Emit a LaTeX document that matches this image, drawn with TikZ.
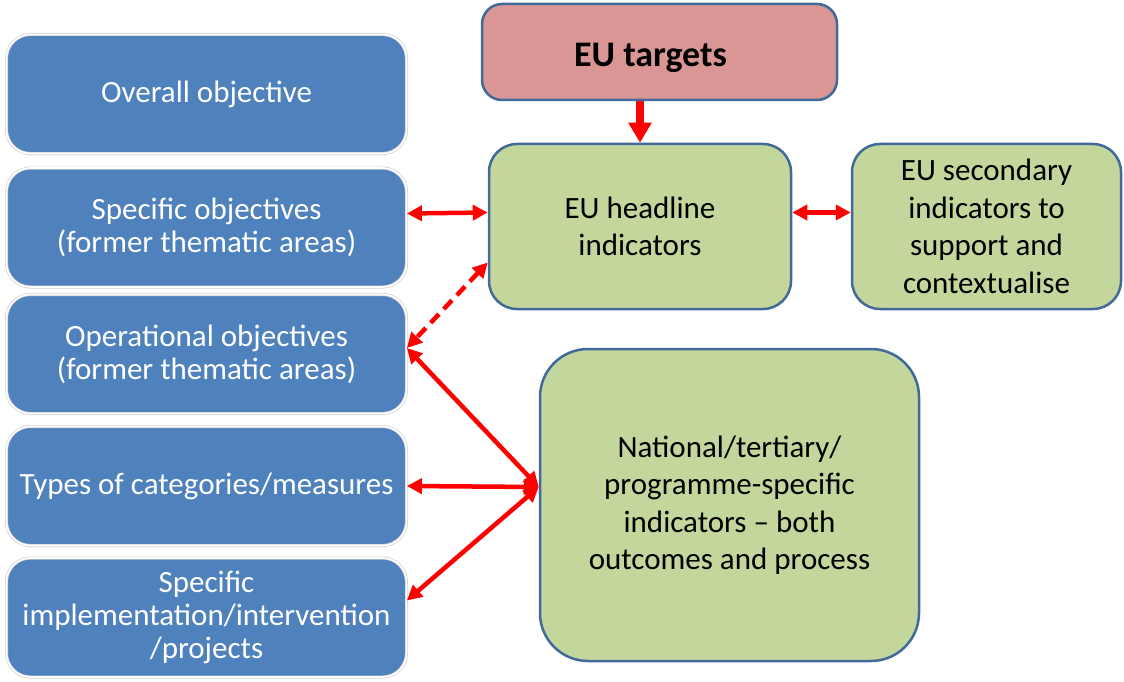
\documentclass[tikz,border=0pt]{standalone}
\usepackage{fontspec}
\setmainfont{Carlito}
\usetikzlibrary{arrows.meta,positioning}
\definecolor{objblue}{HTML}{4F81BD}
\definecolor{indgreen}{HTML}{C3D69B}
\definecolor{tgtred}{HTML}{D99694}
\definecolor{edgeblue}{HTML}{41699A}
\tikzset{
    objblock/.style = {draw=black!18, double=white, double distance=1.6pt,
        line width=0.7pt, fill=objblue, rounded corners=24pt,
        minimum width=400pt, minimum height=119pt,
        text=white, align=center, font=\fontsize{31}{33}\selectfont},
    indblock/.style = {draw=edgeblue, line width=2.5pt, fill=indgreen,
        rounded corners=28pt, align=center,
        font=\fontsize{31}{37.5}\selectfont},
    link/.style = {draw=red, line width=4.5pt,
        {Triangle[length=15pt,width=15pt]}-{Triangle[length=15pt,width=15pt]}}
}

\begin{document}
\begin{tikzpicture}[x=1pt, y=-1pt]
    \useasboundingbox (0,0) rectangle (1124,682);
    % objective levels
    \node [objblock] (overall) at (206.5,94) {Overall objective};
    \node [objblock] (specobj) at (206.5,227.5) {Specific objectives\\(former thematic areas)};
    \node [objblock] (operobj) at (206.5,354) {Operational objectives\\(former thematic areas)};
    \node [objblock] (types) at (206.5,486) {Types of categories/measures};
    \node [objblock] (implem) at (206.5,617.5) {Specific\\implementation/intervention\\/projects};
    % indicators
    \node [indblock, fill=tgtred, minimum width=355pt, minimum height=96pt,
        rounded corners=20pt, text height=38pt, text depth=8pt,
        font=\bfseries\fontsize{36}{40}\selectfont] (targets) at (659.5,52) {EU targets\hspace{18pt}};
    \node [indblock, minimum width=302pt, minimum height=165pt] (headline) at (640,226.5) {EU headline\\indicators};
    \node [indblock, minimum width=269pt, minimum height=165pt] (secondary) at (986.5,226.5) {EU secondary\\indicators to\\support and\\contextualise};
    \node [indblock, minimum width=379pt, minimum height=312pt, rounded corners=48pt] (national) at (729.5,505) {National/tertiary/\\programme-specific\\indicators -- both\\outcomes and process};
    % links
    \draw [draw=red, line width=8pt, -{Triangle[length=20pt,width=22pt]}] (headline.north |- targets.south) -- (headline.north);
    \draw [link] ([yshift=14pt]specobj.east) -- ([yshift=14pt]headline.west);
    \draw [link] ([yshift=14pt]headline.east) -- ([yshift=14pt]secondary.west);
    \draw [link, dash pattern=on 12pt off 7pt] ([yshift=-36pt]headline.west) -- ([yshift=6pt]operobj.east);
    \draw [link] ([yshift=18pt]national.west) -- ([yshift=6pt]operobj.east);
    \draw [link] ([yshift=18pt]national.west) -- (types.east);
    \draw [link] ([yshift=18pt]national.west) -- ([yshift=17pt]implem.east);
\end{tikzpicture}
\end{document}
